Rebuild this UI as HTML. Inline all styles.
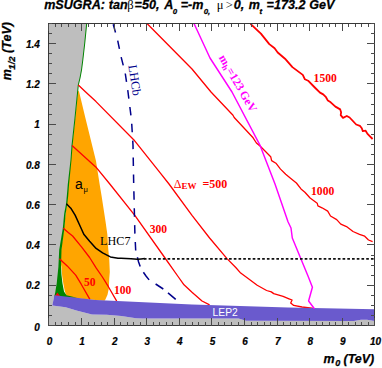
<!DOCTYPE html>
<html><head><meta charset="utf-8"><title>mSUGRA</title>
<style>html,body{margin:0;padding:0;background:#fff;}svg{display:block;}</style>
</head><body>
<svg width="382" height="368" viewBox="0 0 382 368">
<rect width="382" height="368" fill="#fff"/>
<polygon fill="#bebebe" points="48.5,23.5 86.7,23.5 84.7,43.5 82.8,60.0 81.5,70.0 80.0,78.0 78.3,85.0 77.6,92.0 75.0,118.0 72.0,145.5 70.9,160.0 68.3,184.0 67.3,196.0 66.4,204.0 64.7,213.4 63.3,228.2 61.2,241.2 59.5,258.6 58.3,276.0 56.8,288.0 54.4,295.2 52.3,305.6 65.6,307.3 77.3,310.7 92.0,314.6 106.7,314.7 121.3,316.1 136.0,318.2 143.0,318.4 238.5,318.4 246.0,320.8 353.8,320.9 361.0,319.8 367.0,319.7 374.5,320.9 374.5,325.5 48.5,325.5"/>
<polygon fill="#ffa500" points="78.8,90.5 85.4,118.0 96.0,161.0 99.6,184.0 101.6,196.0 105.6,222.0 107.3,234.0 108.2,248.2 109.3,260.0 109.8,272.0 109.3,278.0 108.8,288.6 107.5,294.8 105.4,299.5 104.5,300.8 66.8,297.5 64.8,291.0 63.4,284.0 62.2,276.0 61.4,267.0 60.0,258.6 63.8,229.0 66.8,204.0 68.5,184.0 72.2,145.5 75.2,118.0 77.8,92.0"/>
<polygon fill="#008400" points="86.2,23.5 84.2,43.5 82.3,60.0 81.0,70.0 79.5,78.0 77.8,85.0 77.1,92.0 74.5,118.0 71.5,145.5 70.5,160.0 67.8,184.0 66.8,196.0 66.0,204.0 64.2,213.4 62.8,228.2 59.2,250.0 58.4,266.8 56.7,283.5 55.0,293.6 54.4,295.2 54.4,297.5 77.0,297.8 66.5,295.3 64.0,291.5 62.5,283.5 61.5,275.0 61.0,266.8 61.5,250.0 64.4,228.2 65.7,213.4 67.3,204.0 68.2,196.0 69.1,184.0 71.5,160.0 72.6,145.5 75.5,118.0 78.1,92.0 78.8,85.0 80.5,78.0 82.0,70.0 83.3,60.0 85.2,43.5 87.2,23.5"/>
<polygon fill="#ff0000" points="57.4,292.5 60,296 55,296"/>
<polyline fill="none" stroke="#ff0000" stroke-width="1.3" stroke-linejoin="round"  points="59.4,258.7 67.2,265.9 75.7,275.1 81.2,284.2 89.9,299.4"/>
<polyline fill="none" stroke="#ff0000" stroke-width="1.3" stroke-linejoin="round"  points="63.3,228.2 68.2,232.5 72.6,236.0 81.7,247.1 89.6,257.5 96.1,267.9 102.4,277.0 108.4,286.7 116.7,301.1"/>
<polyline fill="none" stroke="#ff0000" stroke-width="1.3" stroke-linejoin="round"  points="72.0,145.5 96.0,167.2 109.8,184.0 135.0,215.6 165.0,258.0 177.7,276.0 184.0,284.8 192.0,292.3 202.0,301.0 209.6,304.8"/>
<polyline fill="none" stroke="#ff0000" stroke-width="1.3" stroke-linejoin="round"  points="78.3,85.0 85.4,91.8 96.0,101.6 133.7,139.7 160.0,172.6 169.0,184.0 192.0,215.4 209.6,238.0 227.0,258.6 236.0,267.7 240.7,273.1 247.8,278.3 257.2,285.3 266.6,290.5 271.3,291.9 273.7,293.6 283.1,296.4 289.0,298.8 292.1,300.0 290.7,303.0 293.7,305.4 302.0,307.0 313.8,308.4"/>
<polyline fill="none" stroke="#ff0000" stroke-width="1.3" stroke-linejoin="round"  points="147.0,23.5 192.0,69.0 211.0,92.0 233.0,115.2 234.2,117.5 253.1,137.8 256.4,143.0 260.3,146.3 265.5,151.5 270.7,156.7 271.6,160.6 275.9,163.2 280.5,169.1 285.7,174.3 290.5,178.3 296.4,183.0 301.0,188.9 304.9,192.2 310.1,198.0 317.2,203.2 317.9,205.9 322.0,207.8 327.7,211.1 330.5,216.0 336.7,219.6 340.8,224.1 346.5,226.6 353.0,231.5 359.5,234.3 364.7,236.2 368.5,240.0 372.6,241.6"/>
<polyline fill="none" stroke="#ff0000" stroke-width="1.8" stroke-linejoin="round"  points="250.5,23.8 260.9,33.6 269.3,44.1 274.6,48.3 277.7,52.5 285.0,58.7 292.4,67.1 302.8,74.9 304.9,79.3 308.1,80.7 314.3,87.0 320.0,92.6 323.2,94.4 326.0,97.2 327.9,100.6 330.7,102.3 335.4,106.6 340.2,109.4 341.1,112.3 340.7,115.1 343.0,117.9 346.8,116.0 349.6,117.5 356.2,124.5 359.9,125.8 361.8,128.3 362.8,131.1 365.6,130.7 367.5,133.9 372.6,139.0"/>
<polygon fill="#6a5acd" points="54.4,295.2 96.0,299.9 192.0,304.4 288.0,307.4 374.5,309.3 374.5,320.9 367.0,319.7 361.0,319.8 353.8,320.9 246.0,320.8 238.5,318.4 143.0,318.4 136.0,318.2 121.3,316.1 106.7,314.7 92.0,314.6 77.3,310.7 65.6,307.3 52.3,305.6"/>
<polyline fill="none" stroke="#ff00ff" stroke-width="1.45" stroke-linejoin="round"  points="194.0,23.5 210.0,58.0 232.0,92.0 259.8,144.8 275.0,184.0 288.0,221.7 291.0,228.0 292.3,238.0 308.0,276.0 312.4,287.3 308.6,301.0 314.4,308.7"/>
<polyline fill="none" stroke="#00008b" stroke-width="1.5" stroke-linejoin="round" stroke-dasharray="8.5 8.4" stroke-dashoffset="16.1" points="113.0,23.5 117.6,40.0 121.0,56.5 125.2,73.0 128.0,92.0 131.5,120.0 133.0,145.0 133.7,184.0 134.9,234.0 135.7,250.6"/>
<polyline fill="none" stroke="#00008b" stroke-width="1.5" stroke-linejoin="round"  points="137.4,257.3 138.6,262.0 140.2,266.6"/>
<polyline fill="none" stroke="#00008b" stroke-width="1.5" stroke-linejoin="round"  points="143.4,272.3 146.0,276.0 149.1,279.9"/>
<polyline fill="none" stroke="#00008b" stroke-width="1.5" stroke-linejoin="round"  points="155.6,284.0 163.3,289.0"/>
<polyline fill="none" stroke="#00008b" stroke-width="1.5" stroke-linejoin="round"  points="168.0,292.9 175.7,299.4"/>
<polyline fill="none" stroke="#000" stroke-width="1.5" stroke-linejoin="round"  points="66.4,203.8 70.8,208.2 75.1,215.1 79.5,224.7 83.8,234.3 89.6,241.2 96.1,248.4 102.6,252.9 110.4,256.9 118.0,258.2 121.0,258.3 131.0,258.7 137.5,259.3 141.0,258.9 145.0,258.5"/>
<line x1="143.9" y1="258.8" x2="374.5" y2="258.8" stroke="#111" stroke-width="1.7" stroke-dasharray="2.65 2.08"/>
<rect x="48.5" y="23.5" width="326.0" height="302.0" fill="none" stroke="#383838" stroke-width="1" shape-rendering="crispEdges"/>
<path d="M48.5 325.5v-7.2 M48.5 23.5v7.2 M55.5 325.5v-3.7 M55.5 23.5v3.7 M61.5 325.5v-3.7 M61.5 23.5v3.7 M68.5 325.5v-3.7 M68.5 23.5v3.7 M75.5 325.5v-3.7 M75.5 23.5v3.7 M81.5 325.5v-7.2 M81.5 23.5v7.2 M88.5 325.5v-3.7 M88.5 23.5v3.7 M94.5 325.5v-3.7 M94.5 23.5v3.7 M101.5 325.5v-3.7 M101.5 23.5v3.7 M107.5 325.5v-3.7 M107.5 23.5v3.7 M114.5 325.5v-7.2 M114.5 23.5v7.2 M120.5 325.5v-3.7 M120.5 23.5v3.7 M127.5 325.5v-3.7 M127.5 23.5v3.7 M133.5 325.5v-3.7 M133.5 23.5v3.7 M140.5 325.5v-3.7 M140.5 23.5v3.7 M146.5 325.5v-7.2 M146.5 23.5v7.2 M153.5 325.5v-3.7 M153.5 23.5v3.7 M159.5 325.5v-3.7 M159.5 23.5v3.7 M166.5 325.5v-3.7 M166.5 23.5v3.7 M172.5 325.5v-3.7 M172.5 23.5v3.7 M179.5 325.5v-7.2 M179.5 23.5v7.2 M185.5 325.5v-3.7 M185.5 23.5v3.7 M192.5 325.5v-3.7 M192.5 23.5v3.7 M198.5 325.5v-3.7 M198.5 23.5v3.7 M205.5 325.5v-3.7 M205.5 23.5v3.7 M211.5 325.5v-7.2 M211.5 23.5v7.2 M218.5 325.5v-3.7 M218.5 23.5v3.7 M224.5 325.5v-3.7 M224.5 23.5v3.7 M231.5 325.5v-3.7 M231.5 23.5v3.7 M238.5 325.5v-3.7 M238.5 23.5v3.7 M244.5 325.5v-7.2 M244.5 23.5v7.2 M251.5 325.5v-3.7 M251.5 23.5v3.7 M257.5 325.5v-3.7 M257.5 23.5v3.7 M264.5 325.5v-3.7 M264.5 23.5v3.7 M270.5 325.5v-3.7 M270.5 23.5v3.7 M277.5 325.5v-7.2 M277.5 23.5v7.2 M283.5 325.5v-3.7 M283.5 23.5v3.7 M290.5 325.5v-3.7 M290.5 23.5v3.7 M296.5 325.5v-3.7 M296.5 23.5v3.7 M303.5 325.5v-3.7 M303.5 23.5v3.7 M309.5 325.5v-7.2 M309.5 23.5v7.2 M316.5 325.5v-3.7 M316.5 23.5v3.7 M322.5 325.5v-3.7 M322.5 23.5v3.7 M329.5 325.5v-3.7 M329.5 23.5v3.7 M335.5 325.5v-3.7 M335.5 23.5v3.7 M342.5 325.5v-7.2 M342.5 23.5v7.2 M348.5 325.5v-3.7 M348.5 23.5v3.7 M355.5 325.5v-3.7 M355.5 23.5v3.7 M361.5 325.5v-3.7 M361.5 23.5v3.7 M368.5 325.5v-3.7 M368.5 23.5v3.7 M374.5 325.5v-7.2 M374.5 23.5v7.2 M48.5 325.5h7.4 M374.5 325.5h-7.4 M48.5 315.5h3.8 M374.5 315.5h-3.8 M48.5 305.5h3.8 M374.5 305.5h-3.8 M48.5 295.5h3.8 M374.5 295.5h-3.8 M48.5 285.5h7.4 M374.5 285.5h-7.4 M48.5 275.5h3.8 M374.5 275.5h-3.8 M48.5 265.5h3.8 M374.5 265.5h-3.8 M48.5 255.5h3.8 M374.5 255.5h-3.8 M48.5 244.5h7.4 M374.5 244.5h-7.4 M48.5 234.5h3.8 M374.5 234.5h-3.8 M48.5 224.5h3.8 M374.5 224.5h-3.8 M48.5 214.5h3.8 M374.5 214.5h-3.8 M48.5 204.5h7.4 M374.5 204.5h-7.4 M48.5 194.5h3.8 M374.5 194.5h-3.8 M48.5 184.5h3.8 M374.5 184.5h-3.8 M48.5 174.5h3.8 M374.5 174.5h-3.8 M48.5 164.5h7.4 M374.5 164.5h-7.4 M48.5 154.5h3.8 M374.5 154.5h-3.8 M48.5 144.5h3.8 M374.5 144.5h-3.8 M48.5 134.5h3.8 M374.5 134.5h-3.8 M48.5 124.5h7.4 M374.5 124.5h-7.4 M48.5 114.5h3.8 M374.5 114.5h-3.8 M48.5 104.5h3.8 M374.5 104.5h-3.8 M48.5 93.5h3.8 M374.5 93.5h-3.8 M48.5 83.5h7.4 M374.5 83.5h-7.4 M48.5 73.5h3.8 M374.5 73.5h-3.8 M48.5 63.5h3.8 M374.5 63.5h-3.8 M48.5 53.5h3.8 M374.5 53.5h-3.8 M48.5 43.5h7.4 M374.5 43.5h-7.4 M48.5 33.5h3.8 M374.5 33.5h-3.8 M48.5 23.5h3.8 M374.5 23.5h-3.8" stroke="#4a4a4a" stroke-width="1" fill="none" shape-rendering="crispEdges"/>
<g font-family="Liberation Sans, sans-serif" font-weight="bold" font-style="italic" font-size="10px" fill="#000" stroke="#000" stroke-width="0.2">
<text x="49.5" y="344.8" text-anchor="middle">0</text>
<text x="82.1" y="344.8" text-anchor="middle">1</text>
<text x="114.7" y="344.8" text-anchor="middle">2</text>
<text x="147.3" y="344.8" text-anchor="middle">3</text>
<text x="179.9" y="344.8" text-anchor="middle">4</text>
<text x="212.5" y="344.8" text-anchor="middle">5</text>
<text x="245.1" y="344.8" text-anchor="middle">6</text>
<text x="277.7" y="344.8" text-anchor="middle">7</text>
<text x="310.3" y="344.8" text-anchor="middle">8</text>
<text x="342.9" y="344.8" text-anchor="middle">9</text>
<text x="375.5" y="344.8" text-anchor="middle">10</text>
<text x="39.8" y="330.6" text-anchor="end">0</text>
<text x="39.8" y="289.3" text-anchor="end">0.2</text>
<text x="39.8" y="249.1" text-anchor="end">0.4</text>
<text x="39.8" y="208.8" text-anchor="end">0.6</text>
<text x="39.8" y="168.5" text-anchor="end">0.8</text>
<text x="39.8" y="128.3" text-anchor="end">1</text>
<text x="39.8" y="88.0" text-anchor="end">1.2</text>
<text x="39.8" y="47.7" text-anchor="end">1.4</text>
</g>
<text transform="translate(44.2,8.9) scale(1.048,1.000)" font-family="Liberation Sans, sans-serif" font-weight="bold" font-style="italic" stroke="#000" stroke-width="0.25" font-size="12px" fill="#000" >mSUGRA:</text>
<text transform="translate(108.8,8.9) scale(1.048,1.000)" font-family="Liberation Sans, sans-serif" font-weight="bold" font-style="italic" stroke="#000" stroke-width="0.25" font-size="12px" fill="#000" >tan</text>
<text transform="translate(127.2,8.9) scale(1.048,1.000)" font-family="Liberation Serif, serif" font-size="12px" fill="#000" >β</text>
<text transform="translate(134.6,8.9) scale(1.048,1.000)" font-family="Liberation Sans, sans-serif" font-weight="bold" font-style="italic" stroke="#000" stroke-width="0.25" font-size="12px" fill="#000" >=50,</text>
<text transform="translate(164.2,8.9) scale(1.048,1.000)" font-family="Liberation Sans, sans-serif" font-weight="bold" font-style="italic" stroke="#000" stroke-width="0.25" font-size="12px" fill="#000" >A</text>
<text transform="translate(172.8,13.6) scale(1.048,1.000)" font-family="Liberation Sans, sans-serif" font-weight="bold" font-style="italic" stroke="#000" stroke-width="0.25" font-size="7.5px" fill="#000" >0</text>
<text transform="translate(180.7,8.9) scale(1.048,1.000)" font-family="Liberation Sans, sans-serif" font-weight="bold" font-style="italic" stroke="#000" stroke-width="0.25" font-size="12px" fill="#000" >=-m</text>
<text transform="translate(203.7,13.6) scale(1.048,1.000)" font-family="Liberation Sans, sans-serif" font-weight="bold" font-style="italic" stroke="#000" stroke-width="0.25" font-size="7.5px" fill="#000" >0,</text>
<text transform="translate(216.8,8.9) scale(1.048,1.000)" font-family="Liberation Serif, serif" font-size="12px" fill="#000" >μ</text>
<text transform="translate(225.7,8.9) scale(1.048,1.000)" font-family="Liberation Serif, serif" font-size="12px" fill="#000" >&gt;</text>
<text transform="translate(233.8,8.9) scale(1.048,1.000)" font-family="Liberation Sans, sans-serif" font-weight="bold" font-style="italic" stroke="#000" stroke-width="0.25" font-size="12px" fill="#000" >0,</text>
<text transform="translate(248.8,8.9) scale(1.048,1.000)" font-family="Liberation Sans, sans-serif" font-weight="bold" font-style="italic" stroke="#000" stroke-width="0.25" font-size="12px" fill="#000" >m</text>
<text transform="translate(259.5,13.6) scale(1.048,1.000)" font-family="Liberation Sans, sans-serif" font-weight="bold" font-style="italic" stroke="#000" stroke-width="0.25" font-size="7.5px" fill="#000" >t</text>
<text transform="translate(266.6,8.9) scale(1.048,1.000)" font-family="Liberation Sans, sans-serif" font-weight="bold" font-style="italic" stroke="#000" stroke-width="0.25" font-size="12px" fill="#000" >=173.2</text>
<text transform="translate(309.3,8.9) scale(1.048,1.000)" font-family="Liberation Sans, sans-serif" font-weight="bold" font-style="italic" stroke="#000" stroke-width="0.25" font-size="12px" fill="#000" >GeV</text>
<g font-family="Liberation Sans, sans-serif" font-weight="bold" font-style="italic" fill="#000" stroke="#000" stroke-width="0.25">
<text x="323.6" y="362.6" font-size="12.5px">m</text>
<text x="335.2" y="366.3" font-size="9px">0</text>
<text x="343.5" y="362.6" font-size="12.5px">(TeV)</text>
<g transform="translate(10.8,80.3) rotate(-90)">
<text x="0" y="0" font-size="12.5px">m</text>
<text x="10.6" y="3.7" font-size="9.6px">1/2</text>
<text x="27.4" y="0" font-size="12.5px">(TeV)</text>
</g>
</g>
<g font-family="Liberation Serif, serif" font-weight="bold" font-size="12px" fill="#ff0000">
<text transform="translate(83.9,286.2) scale(0.97,1)">50</text>
<text transform="translate(113.9,293.8) scale(0.97,1)">100</text>
<text transform="translate(149.7,232.6) scale(0.97,1)">300</text>
<text transform="translate(311.0,195.2) scale(0.97,1)">1000</text>
<text transform="translate(313.6,82.0) scale(0.97,1)">1500</text>
<text x="173.8" y="187.6" font-size="12px"><tspan font-weight="normal">Δ</tspan><tspan font-size="9px" dy="1.8">EW</tspan><tspan dy="-1.8" dx="6">=500</tspan></text>
</g>
<text x="100.1" y="244.5" font-family="Liberation Serif, serif" font-size="13.3px" fill="#000" textLength="30.4" lengthAdjust="spacingAndGlyphs">LHC7</text>
<text transform="translate(128.2,65.4) rotate(81)" font-family="Liberation Serif, serif" font-size="12.5px" fill="#00008b">LHCb</text>
<g transform="translate(218.5,57.4) rotate(60)" font-family="Liberation Serif, serif" font-weight="bold" font-size="11.7px" fill="#ff00ff">
<text x="0" y="0">m</text><text x="9.8" y="2.2" font-size="8.4px">h</text><text x="15.0" y="0">=123</text><text x="41.6" y="0">GeV</text>
</g>
<text x="75" y="189.3" font-family="Liberation Sans, sans-serif" font-size="14px" fill="#000">a<tspan font-size="7.5px" dy="2.6" dx="0.6">μ</tspan></text>
<text x="212.6" y="315.7" font-family="Liberation Sans, sans-serif" font-size="10.3px" fill="#fff">LEP2</text>
</svg>
</body></html>
